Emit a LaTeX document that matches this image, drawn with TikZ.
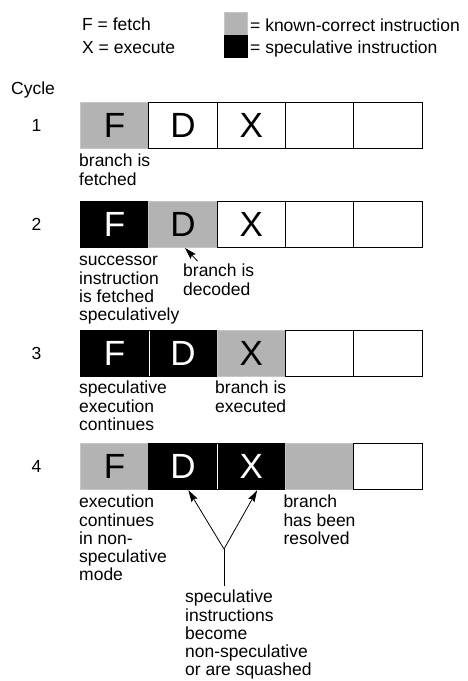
\documentclass[tikz,border=0pt]{standalone}
\usepackage{fontspec}
\setmainfont{Liberation Sans}
\usetikzlibrary{arrows.meta}
\definecolor{kgray}{HTML}{B3B3B3}
\definecolor{kedge}{HTML}{C6C6C6}
\begin{document}
\begin{tikzpicture}[x=1pt,y=-1pt,
  cell/.style={minimum width=68.3pt,minimum height=46pt,inner sep=0pt,line width=0.9pt,
    font=\fontsize{35}{35}\selectfont,anchor=north west},
  wcell/.style={cell,draw=black,fill=white,text=black},
  gcell/.style={cell,draw=kedge,fill=kgray,text=black},
  bcell/.style={cell,draw=black,fill=black,text=white},
  sep/.style={draw=white,line width=0.8pt,shorten >=1pt,shorten <=1pt},
  lbl/.style={anchor=north west,inner sep=0pt,align=left,font=\fontsize{17.5}{18}\selectfont},
  txt/.style={anchor=base west,inner sep=0pt,font=\fontsize{17.5}{18}\selectfont},
  num/.style={anchor=center,inner sep=0pt,font=\fontsize{17.5}{18}\selectfont},
  arr/.style={-{Stealth[length=12pt,width=7pt,inset=2pt]},line width=0.8pt},
  plain/.style={line width=0.8pt}
]
\useasboundingbox (0,0) rectangle (468,681);

% legend
\node[txt] (lf) at (82,30.7) {F = fetch};
\node[txt] (lx) at (82,53.3) {X = execute};
\draw[draw=kedge,fill=kgray,line width=0.6pt] (224,12) rectangle (247,35);
\draw[fill=black,line width=0.6pt] (224,35) rectangle (247,57);
\node[txt] (lk) at (250,31) {= known-correct instruction};
\node[txt] (ls) at (250,53) {= speculative instruction};

\node[txt] (cyc) at (11,94) {Cycle};

% row 1
\node[num] (n1) at (36.5,125.3) {1};
\node[gcell] (r1c1) at (80,102.3) {F};
\node[wcell] (r1c2) at (148.3,102.3) {D};
\node[wcell] (r1c3) at (216.6,102.3) {X};
\node[wcell] (r1c4) at (284.9,102.3) {};
\node[wcell] (r1c5) at (353.2,102.3) {};
\node[lbl] (t1) at (79,153.8) {\strut branch is\\fetched};

% row 2
\node[num] (n2) at (36.5,224) {2};
\node[bcell] (r2c1) at (80,201) {F};
\node[gcell] (r2c2) at (148.3,201) {D};
\node[wcell] (r2c3) at (216.6,201) {X};
\node[wcell] (r2c4) at (284.9,201) {};
\node[wcell] (r2c5) at (353.2,201) {};
\node[lbl] (t2a) at (79,252.3) {\strut successor\\instruction\\is fetched\\speculatively};
\node[lbl] (t2b) at (183,263.3) {\strut branch is\\decoded};
\coordinate (a2) at (197.5,261);
\draw[arr] (a2) -- ([xshift=2pt]r2c2.south);

% row 3
\node[num] (n3) at (36.5,353) {3};
\node[bcell] (r3c1) at (80,330) {F};
\node[bcell] (r3c2) at (148.3,330) {D};
\node[gcell] (r3c3) at (216.6,330) {X};
\node[wcell] (r3c4) at (284.9,330) {};
\node[wcell] (r3c5) at (353.2,330) {};
\draw[sep] (r3c1.north east) -- (r3c1.south east);
\node[lbl] (t3a) at (79,380.6) {\strut speculative\\execution\\continues};
\node[lbl] (t3b) at (215,380.6) {\strut branch is\\executed};

% row 4
\node[num] (n4) at (36.5,466.3) {4};
\node[gcell] (r4c1) at (80,443.3) {F};
\node[bcell] (r4c2) at (148.3,443.3) {D};
\node[bcell] (r4c3) at (216.6,443.3) {X};
\node[gcell] (r4c4) at (284.9,443.3) {};
\node[wcell] (r4c5) at (353.2,443.3) {};
\draw[sep] (r4c2.north east) -- (r4c2.south east);
\node[lbl] (t4a) at (79,494.6) {\strut execution\\continues\\in non-\\speculative\\mode};
\node[lbl] (t4b) at (283.3,494.6) {\strut branch\\has been\\resolved};

\coordinate (j) at (224,549);
\coordinate (jb) at (224,586);
\draw[plain] (jb) -- (j);
\draw[arr] (j) -- ([xshift=5.5pt]r4c2.south);
\draw[arr] (j) -- ([xshift=6pt]r4c3.south);
\node[lbl] (t5) at (185,590) {\strut speculative\\instructions\\become\\non-speculative\\or are squashed};
\end{tikzpicture}
\end{document}
